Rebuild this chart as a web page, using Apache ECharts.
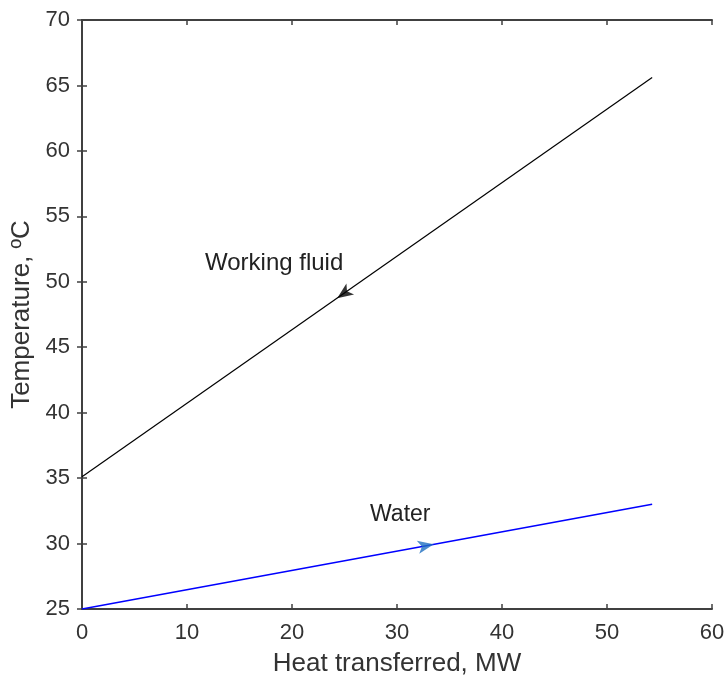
<!DOCTYPE html>
<html><head><meta charset="utf-8">
<script src="https://cdn.jsdelivr.net/npm/echarts@6/dist/echarts.min.js"></script>
<style>html,body{margin:0;padding:0;background:#fff}#c{width:725px;height:678px}</style>
</head><body><div id="c"></div>
<script>
var heatMW = [0, 54.3];
var fluidTemp = [35.1, 65.6];
var waterTemp = [25.0, 33.0];
var fluidArrow = [24.3, 48.75];
var waterArrow = [33.5, 29.94];
var xTicks = [0, 10, 20, 30, 40, 50, 60];
var yTicks = [25, 30, 35, 40, 45, 50, 55, 60, 65, 70];

var font = 'Liberation Sans';
var axisCol = '#404040';
function pairs(xs, ys){ return xs.map(function(x,i){return [x, ys[i]];}); }

var chart = echarts.init(document.getElementById('c'));
var axisCommon = {
  axisLine:{show:true, lineStyle:{color:axisCol, width:2}},
  axisTick:{show:true, inside:true, length:5, lineStyle:{color:axisCol, width:1.5}},
  splitLine:{show:false}
};
chart.setOption({
  animation:false,
  grid:{left:82, right:13, top:20, bottom:69, containLabel:false, outerBoundsMode:'none'},
  xAxis:[
    Object.assign({type:'value', min:0, max:60, interval:10, position:'bottom',
      name:'Heat transferred, MW', nameLocation:'middle', nameGap:42,
      nameTextStyle:{fontFamily:font, fontSize:26, color:'#333'},
      axisLabel:{fontFamily:font, fontSize:22, color:'#333', margin:13}}, axisCommon),
    Object.assign({type:'value', min:0, max:60, interval:10, position:'top',
      axisLabel:{show:false}}, axisCommon)
  ],
  yAxis:[
    Object.assign({type:'value', min:25, max:70, interval:5, position:'left',
      name:'Temperature, ºC', nameLocation:'middle', nameGap:47,
      nameTextStyle:{fontFamily:font, fontSize:26, color:'#333'},
      axisLabel:{fontFamily:font, fontSize:22, color:'#333', margin:12}}, axisCommon),
    Object.assign({type:'value', min:25, max:70, interval:5, position:'right',
      axisLabel:{show:false}}, axisCommon)
  ],
  series:[
    {type:'line', data:pairs(heatMW, fluidTemp), symbol:'none', lineStyle:{color:'#000', width:1.2}, z:3},
    {type:'line', data:pairs(heatMW, waterTemp), symbol:'none', lineStyle:{color:'#0000ff', width:1.5}, z:3},
    {type:'scatter', data:[fluidArrow], symbol:'arrow', symbolSize:[10,16], symbolRotate:125,
      itemStyle:{color:'#000'}, z:4},
    {type:'scatter', data:[waterArrow], symbol:'arrow', symbolSize:[10,16], symbolRotate:-79.5,
      itemStyle:{color:'#1f6fc0'}, z:4}
  ],
  graphic:[
    {type:'text', left:205, top:251, style:{text:'Working fluid', font:'24px "Liberation Sans"', fill:'#222'}},
    {type:'text', left:370, top:503, style:{text:'Water', font:'23px "Liberation Sans"', fill:'#222'}}
  ]
});
</script></body></html>
